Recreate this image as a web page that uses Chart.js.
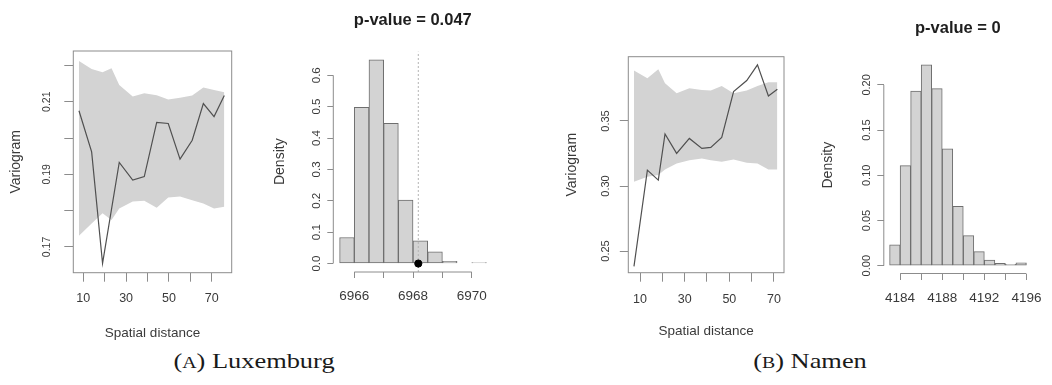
<!DOCTYPE html>
<html>
<head>
<meta charset="utf-8">
<script src="https://cdn.jsdelivr.net/npm/chart.js@4.4.1/dist/chart.umd.min.js"></script>
<style>
  body { margin: 0; width: 1052px; height: 385px; overflow: hidden; position: relative; background: #fff; }
  canvas { position: absolute; top: 0; }
  .cap { position: absolute; top: 350px; line-height: 22px; font-family: 'Liberation Serif', 'Times New Roman', serif;
         font-size: 22px; color: #1a1a1a; white-space: nowrap; transform: translateX(-50%) scaleX(1.2); }
  .cap small { font-size: 16.5px; }
</style>
</head>
<body>
<canvas id="luxVar" width="260" height="345" style="left:0px"></canvas>
<canvas id="luxHist" width="260" height="345" style="left:250px"></canvas>
<canvas id="namVar" width="270" height="345" style="left:530px"></canvas>
<canvas id="namHist" width="252" height="345" style="left:800px"></canvas>
<div class="cap" style="left:254px">(<small>A</small>) Luxemburg</div>
<div class="cap" style="left:810px">(<small>B</small>) Namen</div>
<script>
// ---- Luxemburg: empirical variogram with simulation envelope
const luxDist  = [7.98, 13.9, 19.0, 26.8, 33.1, 38.5, 44.3, 49.7, 55.2, 60.9, 66.1, 71.1, 75.9];
const luxGamma = [0.2075, 0.1962, 0.1655, 0.1933, 0.1884, 0.1894, 0.2043, 0.2040, 0.1942, 0.1994, 0.2095, 0.2059, 0.2117];
const luxEnvDist  = [7.98, 13.9, 19.0, 23.2, 26.8, 33.1, 38.5, 44.3, 49.7, 55.2, 60.9, 66.1, 71.1, 75.9];
const luxEnvUpper = [0.2212, 0.2190, 0.2181, 0.2192, 0.2146, 0.2114, 0.2123, 0.2118, 0.2106, 0.2111, 0.2117, 0.2139, 0.2132, 0.2126];
const luxEnvLower = [0.1731, 0.1765, 0.1793, 0.1774, 0.1806, 0.1825, 0.1827, 0.1808, 0.1836, 0.1839, 0.1829, 0.1820, 0.1806, 0.1811];
const luxVarXTicks  = [10, 20, 30, 40, 50, 60, 70];
const luxVarXLabels = ['10', '', '30', '', '50', '', '70'];
const luxVarYTicks  = [0.17, 0.18, 0.19, 0.20, 0.21, 0.22];
const luxVarYLabels = ['0.17', '', '0.19', '', '0.21', ''];

// ---- Luxemburg: permutation histogram
const luxMids    = [6965.75, 6966.25, 6966.75, 6967.25, 6967.75, 6968.25, 6968.75, 6969.25, 6969.75, 6970.25];
const luxDensity = [0.083, 0.498, 0.649, 0.447, 0.202, 0.072, 0.037, 0.0074, 0, 0.003];
const luxObserved = 6968.18;
const luxHistXTicks  = [6966, 6967, 6968, 6969, 6970];
const luxHistXLabels = ['6966', '', '6968', '', '6970'];
const luxHistYTicks  = [0, 0.1, 0.2, 0.3, 0.4, 0.5, 0.6];
const luxHistYLabels = ['0.0', '0.1', '0.2', '0.3', '0.4', '0.5', '0.6'];

// ---- Namen: empirical variogram with simulation envelope
const namDist  = [7.3, 13.3, 18.2, 21.2, 26.4, 32.1, 37.7, 41.7, 46.6, 51.9, 57.8, 62.6, 67.5, 71.5];
const namGamma = [0.2382, 0.3122, 0.3045, 0.3400, 0.3251, 0.3366, 0.3289, 0.3297, 0.3374, 0.3726, 0.3811, 0.3932, 0.3693, 0.3744];
const namEnvUpper = [0.3888, 0.3829, 0.3898, 0.3790, 0.3713, 0.3752, 0.3739, 0.3734, 0.3770, 0.3713, 0.3734, 0.3770, 0.3798, 0.3798];
const namEnvLower = [0.3032, 0.3071, 0.3084, 0.3127, 0.3174, 0.3199, 0.3212, 0.3199, 0.3186, 0.3204, 0.3179, 0.3174, 0.3127, 0.3127];
const namVarXTicks  = [10, 20, 30, 40, 50, 60, 70];
const namVarXLabels = ['10', '', '30', '', '50', '', '70'];
const namVarYTicks  = [0.25, 0.30, 0.35];
const namVarYLabels = ['0.25', '0.30', '0.35'];

// ---- Namen: permutation histogram
const namMids    = [4183.5, 4184.5, 4185.5, 4186.5, 4187.5, 4188.5, 4189.5, 4190.5, 4191.5, 4192.5, 4193.5, 4194.5, 4195.5];
const namDensity = [0.0230, 0.1107, 0.1933, 0.2222, 0.1959, 0.1293, 0.0656, 0.0333, 0.0156, 0.0063, 0.0026, 0.0015, 0.0033];
const namHistXTicks  = [4184, 4186, 4188, 4190, 4192, 4194, 4196];
const namHistXLabels = ['4184', '', '4188', '', '4192', '', '4196'];
const namHistYTicks  = [0, 0.05, 0.10, 0.15, 0.20];
const namHistYLabels = ['0.00', '0.05', '0.10', '0.15', '0.20'];

const FONT = "'Liberation Sans', Arial, Helvetica, sans-serif";
const AXIS = '#8c8c8c';
const TEXT = '#3a3a3a';
const ENV = '#d3d3d3';

// R style frame: full box for variograms, axis lines spanning the ticks for histograms
const rFrame = {
    id: 'rFrame',
    afterDatasetsDraw(chart, args, opts) {
        const { ctx, chartArea: a, scales: { x, y } } = chart;
        ctx.save();
        ctx.strokeStyle = AXIS;
        ctx.lineWidth = 1;
        if (opts.box) {
            ctx.strokeRect(a.left, a.top, a.right - a.left, a.bottom - a.top);
        } else {
            const xt = x.ticks, yt = y.ticks;
            ctx.beginPath();
            ctx.moveTo(x.getPixelForValue(xt[0].value), a.bottom);
            ctx.lineTo(x.getPixelForValue(xt[xt.length - 1].value), a.bottom);
            ctx.moveTo(a.left, y.getPixelForValue(yt[0].value));
            ctx.lineTo(a.left, y.getPixelForValue(yt[yt.length - 1].value));
            ctx.stroke();
        }
        ctx.restore();
    }
};

function axis(o) {
    const vertical = o.rot === 90;
    return {
        type: 'linear', min: o.min, max: o.max, offset: false,
        afterBuildTicks: s => { s.ticks = o.ticks.map(v => ({ value: v })); },
        afterFit: s => { if (vertical) s.width = o.size; else s.height = o.size; },
        grid: { drawOnChartArea: false, drawTicks: true, tickLength: o.tl, color: AXIS, tickColor: AXIS, offset: false },
        border: { display: false },
        ticks: {
            autoSkip: false, minRotation: o.rot, maxRotation: o.rot, padding: o.pad,
            crossAlign: vertical ? 'center' : 'near',
            color: TEXT, font: { family: FONT, size: o.font },
            callback: (v, i) => o.labels[i]
        },
        title: o.title ? {
            display: true, text: o.title, color: TEXT,
            font: { family: FONT, size: o.titleSize || 13.5 },
            padding: vertical ? { top: o.titlePad, bottom: 0 } : { top: 0, bottom: o.titlePad }
        } : { display: false }
    };
}

function variogram(id, p) {
    const pts = (xs, ys) => xs.map((v, i) => ({ x: v, y: ys[i] }));
    new Chart(document.getElementById(id), {
        type: 'line',
        data: {
            datasets: [
                { data: pts(p.dist, p.gamma), borderColor: '#505050', borderWidth: 1.2, pointRadius: 0, tension: 0, fill: false, order: 0 },
                { data: pts(p.envDist, p.upper), borderWidth: 0, borderColor: ENV, backgroundColor: ENV, pointRadius: 0, tension: 0, fill: '+1', order: 1 },
                { data: pts(p.envDist, p.lower), borderWidth: 0, borderColor: ENV, pointRadius: 0, tension: 0, fill: false, order: 2 }
            ]
        },
        options: {
            responsive: false, animation: false, events: [],
            layout: { padding: p.layout },
            scales: { x: axis(p.x), y: axis(p.y) },
            plugins: { legend: { display: false }, tooltip: { enabled: false }, rFrame: { box: true } }
        },
        plugins: [rFrame]
    });
}

function histogram(id, p) {
    const datasets = [{
        type: 'bar',
        data: p.mids.map((m, i) => ({ x: m, y: p.density[i] })),
        backgroundColor: ENV, borderColor: '#6e6e6e', borderWidth: 1, borderSkipped: false,
        barPercentage: 1, categoryPercentage: 1, order: 2
    }];
    if (p.observed !== undefined) {
        datasets.push({
            type: 'line', data: [{ x: p.observed, y: p.y.min }, { x: p.observed, y: p.y.max }],
            borderColor: '#b4b4b4', borderWidth: 1, borderDash: [2, 2], pointRadius: 0, order: 1
        });
        datasets.push({
            type: 'line', data: [{ x: p.observed, y: 0 }], showLine: false,
            pointRadius: 3.6, pointBackgroundColor: '#000', pointBorderColor: '#000', order: 0
        });
    }
    new Chart(document.getElementById(id), {
        type: 'bar',
        data: { datasets },
        options: {
            responsive: false, animation: false, events: [],
            layout: { padding: p.layout },
            scales: { x: axis(p.x), y: axis(p.y) },
            plugins: {
                legend: { display: false }, tooltip: { enabled: false },
                title: {
                    display: true, text: p.title, fullSize: false, color: '#1e1e1e',
                    font: { family: FONT, size: 16.5, weight: 'bold' }, padding: p.titlePad
                },
                rFrame: { box: false }
            }
        },
        plugins: [rFrame]
    });
}

variogram('luxVar', {
    dist: luxDist, gamma: luxGamma, envDist: luxEnvDist, upper: luxEnvUpper, lower: luxEnvLower,
    layout: { left: 0, top: 51, right: 28.3, bottom: 0 },
    x: { min: 5.33, max: 79.35, ticks: luxVarXTicks, labels: luxVarXLabels, rot: 0, size: 72.3, tl: 9, pad: 9.1, font: 12.5,
         title: 'Spatial distance', titlePad: 3.9 },
    y: { min: 0.16292, max: 0.22396, ticks: luxVarYTicks, labels: luxVarYLabels, rot: 90, size: 73.3, tl: 9, pad: 6.8, font: 10.5,
         title: 'Variogram', titleSize: 14, titlePad: 8.2 }
});

histogram('luxHist', {
    mids: luxMids, density: luxDensity, observed: luxObserved, title: 'p-value = 0.047',
    titlePad: { top: 10.1, bottom: 21.5 },
    layout: { left: 0, top: 0, right: 17.7, bottom: 0 },
    x: { min: 6965.285, max: 6970.7, ticks: luxHistXTicks, labels: luxHistXLabels, rot: 0, size: 73, tl: 6, pad: 10.5, font: 13.5 },
    y: { min: -0.027, max: 0.676, ticks: luxHistYTicks, labels: luxHistYLabels, rot: 90, size: 83.3, tl: 6, pad: 2.6, font: 11.5,
         title: 'Density', titleSize: 14, titlePad: 21.6 }
});

variogram('namVar', {
    dist: namDist, gamma: namGamma, envDist: namDist, upper: namEnvUpper, lower: namEnvLower,
    layout: { left: 0, top: 56.7, right: 16, bottom: 0 },
    x: { min: 4.76, max: 74.48, ticks: namVarXTicks, labels: namVarXLabels, rot: 0, size: 72.3, tl: 9, pad: 10.4, font: 12.5,
         title: 'Spatial distance', titlePad: 5.3 },
    y: { min: 0.23331, max: 0.39946, ticks: namVarYTicks, labels: namVarYLabels, rot: 90, size: 98.3, tl: 8.5, pad: 3.3, font: 11,
         title: 'Variogram', titleSize: 14, titlePad: 34.1 }
});

histogram('namHist', {
    mids: namMids, density: namDensity, title: 'p-value = 0',
    titlePad: { top: 18.4, bottom: 18.6 },
    layout: { left: 0, top: 0, right: 12.2, bottom: 0 },
    x: { min: 4182.45, max: 4196.52, ticks: namHistXTicks, labels: namHistXLabels, rot: 0, size: 71.5, tl: 6.5, pad: 9.8, font: 13.5 },
    y: { min: -0.00863, max: 0.2311, ticks: namHistYTicks, labels: namHistYLabels, rot: 90, size: 83.8, tl: 6.5, pad: 0, font: 11,
         title: 'Density', titleSize: 14, titlePad: 19.9 }
});
</script>
</body>
</html>
